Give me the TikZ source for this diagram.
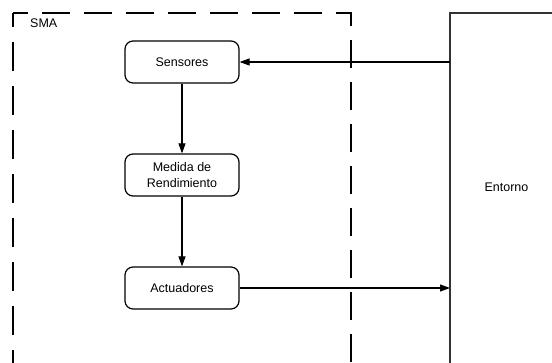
\documentclass[tikz,border=0pt]{standalone}
\usepackage{fontspec}
\setmainfont{Liberation Sans}
\usetikzlibrary{arrows.meta}
\tikzset{
  box/.style={draw=black, line width=1.2pt, rounded corners=8pt, minimum width=114pt, minimum height=42pt, align=center, inner sep=0pt, font=\fontsize{12.5}{15.5}\selectfont},
  lbl/.style={font=\fontsize{12.5}{15}\selectfont, inner sep=0pt},
  conn/.style={draw=black, line width=1.1pt, -{Triangle[length=10pt,width=7pt]}},
  smaline/.style={draw=black, line width=1.1pt},
  envline/.style={draw=black!80, line width=1.3pt}
}
\begin{document}
\begin{tikzpicture}[x=1pt,y=-1pt]
\useasboundingbox (0,0) rectangle (552,363);
\fill[white] (0,0) rectangle (552,363);
% SMA dashed container
\coordinate (smaTL) at (13,13);
\coordinate (smaTR) at (351,13);
\coordinate (smaBR) at (351,380);
\coordinate (smaBL) at (13,380);
\draw[smaline, dash pattern=on 28pt off 14pt, dash phase=13pt] (smaTL) -- (smaTR) -- (smaBR);
\draw[smaline, dash pattern=on 29pt off 15pt, dash phase=15pt] (smaTL) -- (smaBL);
\node[lbl, anchor=west] (sma) at (30,23) {SMA};
% Entorno
\coordinate (envTL) at (450,13);
\coordinate (envTR) at (560,13);
\coordinate (envBL) at (450,380);
\draw[envline] (envBL) -- (envTL) -- (envTR);
\node[lbl] (entorno) at (506.5,187.5) {Entorno};
\coordinate (envIn) at (450,62);
\coordinate (envOut) at (450,288);
% boxes
\node[box] (sens) at (182,62) {Sensores};
\node[box] (med) at (182,175) {Medida de\\Rendimiento};
\node[box] (act) at (182,288) {Actuadores};
% connectors
\draw[conn] (envIn) -- (sens.east);
\draw[conn] (sens.south) -- (med.north);
\draw[conn] (med.south) -- (act.north);
\draw[conn] (act.east) -- (envOut);
\end{tikzpicture}
\end{document}
